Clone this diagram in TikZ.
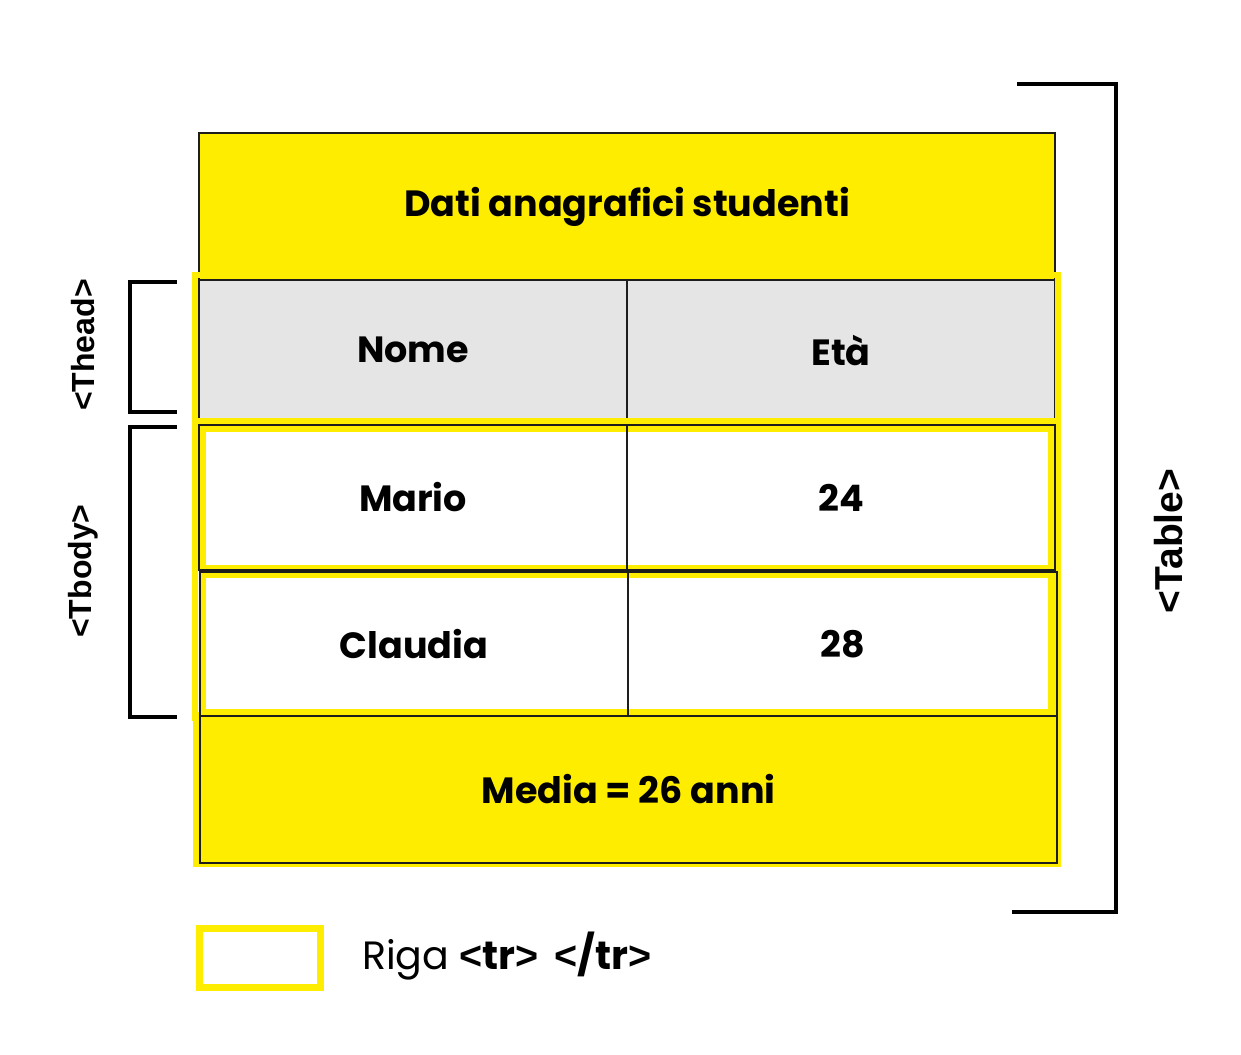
\documentclass[tikz,border=0pt]{standalone}
\usepackage{fontspec}
\setmainfont{Poppins}
\newfontfamily\tagfont{Liberation Sans}[BoldFont={Liberation Sans Bold}]
\newcommand{\angl}{{\tagfont\bfseries<}}
\newcommand{\angr}{{\tagfont\bfseries>}}
\definecolor{hlyellow}{HTML}{FFED00}
\definecolor{headgray}{HTML}{E5E5E5}
\definecolor{ink}{HTML}{1D1D1B}
\begin{document}
\begin{tikzpicture}[x=1pt,y=-1pt,
  cell/.style={draw=ink, line width=2.2pt, rectangle, inner sep=0pt,
    font=\fontsize{36.5}{40}\selectfont\bfseries},
  rowmark/.style={draw=hlyellow, line width=6.5pt},
  brace/.style={draw=black, line width=4pt},
  taglabel/.style={rotate=90, font=\tagfont\bfseries\fontsize{32}{35}\selectfont},
]
\useasboundingbox (0,0) rectangle (1241,1054);

% title and header cells
\node[cell, fill=hlyellow, minimum width=856, minimum height=147] (title) at (627,206.5) {Dati anagrafici studenti};
\node[cell, fill=headgray, minimum width=428, minimum height=140] (nome) at (413,350) {Nome};
\node[cell, fill=headgray, minimum width=428, minimum height=140] (eta) at (841,350) {Età};

% footer fill with its yellow margin
\fill[hlyellow] (193,712) rectangle (1061,867);

% yellow row outlines (<tr>) and section outlines
\draw[rowmark] (195,275) rectangle (1058,421);
\draw[rowmark] (195,424) rectangle (1058,718);
\draw[rowmark] (202.5,428.5) rectangle (1051.5,568);
\draw[rowmark] (202.5,574.5) rectangle (1051.5,712);

% body and footer cells
\node[cell, minimum width=428, minimum height=145] (mario) at (413,497.5) {Mario};
\node[cell, minimum width=428, minimum height=145] (eta1) at (841,497.5) {24};
\node[cell, minimum width=428, minimum height=144] (claudia) at (414,644) {Claudia};
\node[cell, minimum width=429, minimum height=144] (eta2) at (842.5,644) {28};
\node[cell, minimum width=857, minimum height=147] (media) at (628.5,789.5) {Media = 26 anni};

% brackets for thead, tbody and table
\coordinate (th1) at (177,281.5);
\coordinate (th2) at (177,412);
\coordinate (tb1) at (177,426.5);
\coordinate (tb2) at (177,716.5);
\coordinate (ta1) at (1017,84);
\coordinate (ta2) at (1012,912);
\draw[brace] (th1) -- (129.5,281.5) -- (129.5,412) -- (th2);
\draw[brace] (tb1) -- (129.5,426.5) -- (129.5,716.5) -- (tb2);
\draw[brace] (ta1) -- (1116,84) -- (1116,912) -- (ta2);

\node[taglabel] (theadlbl) at (83,345) {<Thead>};
\node[taglabel] (tbodylbl) at (83,571) {<Tbody>};
\node[taglabel, font=\tagfont\bfseries\fontsize{39}{42}\selectfont] (tablelbl) at (1169,541) {<Table>};

% legend
\node[draw=hlyellow, line width=7pt, minimum width=121, minimum height=59, inner sep=0pt] (legbox) at (260,958) {};
\node[anchor=west, inner sep=0pt, font=\fontsize{39.5}{43}\selectfont] (legtext) at (362,956) {Riga\hspace{10pt}\textbf{\angl tr\angr\hspace{16pt}\angl/tr\angr}};
\end{tikzpicture}
\end{document}
